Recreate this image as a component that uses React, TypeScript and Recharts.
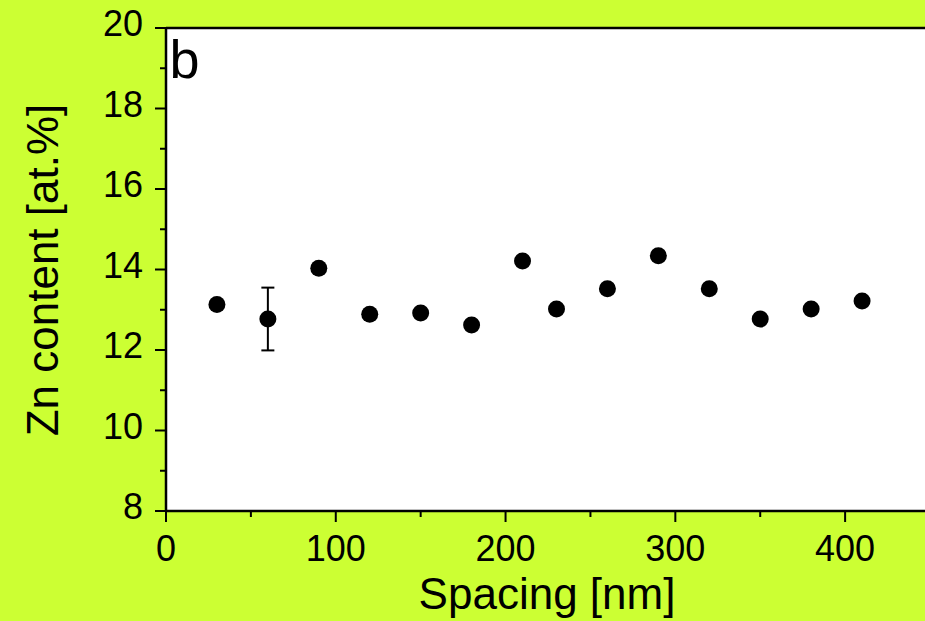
import React from "react";
import {
  ScatterChart,
  Scatter,
  XAxis,
  YAxis,
  CartesianGrid,
  ErrorBar,
  ReferenceLine,
} from "recharts";

const spacing = [30, 90, 120, 150, 180, 210, 230, 260, 290, 320, 350, 380, 410];
const znContent = [13.13, 14.03, 12.89, 12.92, 12.62, 14.21, 13.02, 13.52, 14.34, 13.52, 12.77, 13.02, 13.22];
const errSpacing = [60];
const errContent = [12.77];
const errValue = [0.78];
const xTicks = [0, 50, 100, 150, 200, 250, 300, 350, 400];
const yTicks = [8, 9, 10, 11, 12, 13, 14, 15, 16, 17, 18, 19, 20];

const mainData = spacing.map((x, i) => ({ x, y: znContent[i] }));
const errData = errSpacing.map((x, i) => ({ x, y: errContent[i], err: errValue[i] }));

const FONT = "'Liberation Sans', Arial, Helvetica, sans-serif";
const BG = "#ccff33";

const XTick = (props: any) => {
  const { x, y, payload } = props;
  const v = payload.value;
  const major = v % 100 === 0;
  return (
    <g>
      <line x1={x} y1={y} x2={x} y2={y + (major ? 11 : 6)} stroke="#000" strokeWidth={2} />
      {major && (
        <text x={x} y={y + 50} textAnchor="middle" fontSize={36} fontFamily={FONT} fill="#000">
          {v}
        </text>
      )}
    </g>
  );
};

const YTick = (props: any) => {
  const { x, y, payload } = props;
  const v = payload.value;
  const major = v % 2 === 0;
  return (
    <g>
      <line x1={x} y1={y} x2={x - (major ? 11 : 6)} y2={y} stroke="#000" strokeWidth={2} />
      {major && (
        <text x={x - 23} y={y + 8} textAnchor="end" fontSize={36} fontFamily={FONT} fill="#000">
          {v}
        </text>
      )}
    </g>
  );
};

const Dot = (props: any) => {
  const { cx, cy } = props;
  return <circle cx={cx} cy={cy} r={8.5} fill="#000" />;
};

export default function App() {
  return (
    <div
      style={{
        position: "absolute",
        left: 0,
        top: 0,
        width: 925,
        height: 621,
        overflow: "hidden",
        background: BG,
      }}
    >
      <ScatterChart width={935} height={621} margin={{ top: 28, right: 5, bottom: 0, left: 0 }}>
        <CartesianGrid horizontal={false} vertical={false} fill="#ffffff" fillOpacity={1} />
        <XAxis
          type="number"
          dataKey="x"
          domain={[0, 450]}
          ticks={xTicks}
          interval={0}
          height={110}
          tickSize={0}
          tickMargin={0}
          tickLine={false}
          tick={<XTick />}
          axisLine={{ stroke: "#000", strokeWidth: 2.5 }}
          allowDataOverflow
        />
        <YAxis
          type="number"
          dataKey="y"
          domain={[8, 20]}
          ticks={yTicks}
          interval={0}
          width={166}
          tickSize={0}
          tickMargin={0}
          tickLine={false}
          tick={<YTick />}
          axisLine={{ stroke: "#000", strokeWidth: 2.5 }}
          allowDataOverflow
        />
        <ReferenceLine y={20} stroke="#000" strokeWidth={2.5} ifOverflow="visible" />
        <Scatter data={mainData} shape={<Dot />} isAnimationActive={false} />
        <Scatter data={errData} shape={<Dot />} isAnimationActive={false}>
          <ErrorBar dataKey="err" direction="y" width={6.5} stroke="#000" strokeWidth={2} />
        </Scatter>
        <text x={169.5} y={78} fontSize={54} fontFamily={FONT} fill="#000">
          b
        </text>
        <text x={547} y={609} textAnchor="middle" fontSize={44} fontFamily={FONT} fill="#000">
          Spacing [nm]
        </text>
        <text
          x={0}
          y={0}
          transform="translate(58,270) rotate(-90)"
          textAnchor="middle"
          fontSize={44}
          fontFamily={FONT}
          fill="#000"
        >
          Zn content [at.%]
        </text>
      </ScatterChart>
    </div>
  );
}
